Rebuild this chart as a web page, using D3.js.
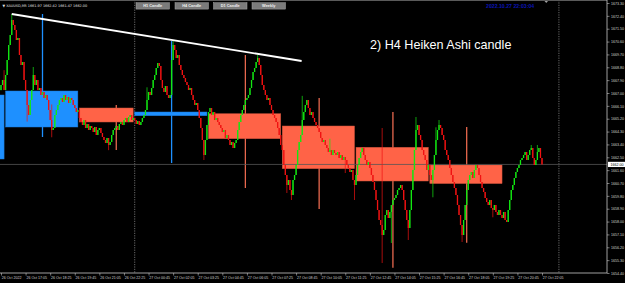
<!DOCTYPE html>
<html lang="en">
<head>
<meta charset="utf-8">
<title>XAUUSD M5 - H4 Heiken Ashi candle</title>
<script src="https://cdn.jsdelivr.net/npm/d3@7"></script>
<style>
  body { margin: 0; background: #000; }
  svg { display: block; }
  .ax text { font-family: "Liberation Sans", Arial, sans-serif; font-size: 3.6px; fill: #d0d0d0; }
  .ax line { stroke: #c0c0c0; stroke-width: 0.6; }
  .btn text { font-family: "Liberation Sans", Arial, sans-serif; font-size: 3.9px; font-weight: bold; fill: #f0f0f0; }
</style>
</head>
<body>
<div class="chart"></div>
<script>

// M5 closes, one per bar, bar 0 = "26 Oct 2022"
var closes = [
1667.56,1667.91,1667.21,1668.26,1669.31,1670.36,1671.06,1672.11,1671.76,
1671.41,1670.71,1670.85,1669.66,1668.96,1669.17,1667.91,1667.21,1666.16,1665.46,
1666.51,1667.21,1668.26,1667.56,1667.91,1667.21,1667.35,1666.86,
1667.07,1666.65,1666.86,1666.51,1665.81,1665.11,1664.41,1664.55,1665.46,
1665.81,1666.16,1666.51,1666.65,1666.37,1666.86,1666.51,1666.72,1666.30,1666.65,1666.51,1666.16,
1665.95,1665.67,1665.81,1665.25,1664.97,1664.76,1665.11,1664.55,1664.83,1664.41,1664.69,
1664.55,1664.27,1664.62,1664.06,1664.41,1664.55,1664.20,
1663.92,1663.71,1663.50,1663.85,1663.36,1663.57,1664.06,
1664.41,1664.55,1664.69,1664.41,1664.83,1664.97,
1664.76,1665.11,1665.25,1664.97,1665.32,1665.46,1665.11,1665.25,
1665.11,1664.83,1665.04,1664.76,1664.97,1665.25,
1665.46,1665.81,1666.51,1667.07,1666.86,1667.35,
1667.91,1668.26,1668.75,1669.10,1668.89,
1667.91,1667.35,1667.07,1667.49,1666.86,1666.65,1666.86,
1669.31,1670.36,1670.01,1669.45,1669.66,1668.96,
1668.61,1668.26,1668.05,1667.77,1667.56,1667.21,1667.35,1666.86,
1666.51,1666.16,1666.30,1665.81,1665.25,1664.55,1663.71,1662.66,
1663.71,1664.76,1665.67,1665.95,
1665.46,1665.67,1665.11,1665.25,1664.97,1664.76,
1664.55,1664.27,1664.41,1663.85,1664.06,
1663.71,1663.36,1663.57,1663.15,1663.50,1663.71,
1664.41,1664.97,1665.46,1665.81,1666.16,1666.51,1666.65,
1666.86,1667.35,1667.91,1668.47,1668.75,1669.17,1669.45,
1668.96,1668.26,1667.56,1667.21,1666.86,1666.51,1666.65,1666.16,
1665.81,1665.46,1665.25,1664.97,1664.55,1664.06,1663.36,1663.01,
1661.96,1661.26,1660.56,1660.91,1660.21,1659.86,
1660.91,1661.26,1661.96,1663.01,1663.57,1664.06,
1665.11,1665.67,1666.16,1666.51,1665.95,1665.46,1665.67,1665.25,
1664.97,1664.76,1664.55,1664.27,1663.85,1663.57,1663.71,1663.36,
1663.15,1662.87,1663.01,1662.66,1663.01,1662.80,
1662.66,1662.87,1662.45,1662.66,1662.31,1662.52,
1662.31,1661.96,1661.75,1661.47,1661.61,1660.91,1660.56,1661.26,
1661.96,1662.45,1662.87,1663.15,
1662.66,1662.31,1661.96,1662.17,1661.75,
1661.26,1660.77,1660.21,1659.51,1658.81,1658.11,1657.76,1657.06,1657.41,
1658.46,1658.81,1658.25,1658.67,1659.16,1659.51,1659.65,1659.86,
1660.21,1660.35,1660.56,1660.21,1659.51,1658.81,1658.11,1657.55,
1658.81,1660.21,1661.61,1663.01,1664.41,1664.76,1664.06,
1663.71,1663.01,1662.66,1662.31,1661.61,1661.96,1661.26,1660.91,
1661.61,1662.66,1663.71,1664.41,1664.76,1664.55,
1664.06,1663.71,1663.01,1662.66,1662.31,1661.75,1661.26,1660.77,
1660.35,1659.86,1659.16,1658.46,1657.76,1657.06,
1658.11,1659.16,1660.21,1660.91,
1661.26,1661.47,1661.05,1661.61,1661.96,
1661.75,1661.26,1660.77,1660.35,
1660.07,1659.65,1659.37,1659.16,1659.51,
1658.95,1658.81,1659.16,1658.67,1658.46,
1658.81,1658.46,1658.25,1658.67,1658.11,1657.97,
1658.81,1659.51,1660.21,1660.56,1661.05,1661.47,1661.75,1661.96,
1662.31,1662.45,1662.66,1662.87,1662.31,1662.66,1663.01,1663.15,
1662.45,1661.96,1662.31,1662.87,1663.15,1662.45,1662.00
];
var firstOpen = 1667.20;

// long wicks that stick out of the bodies
var wickHighBars = [2, 7, 21, 33, 95, 112, 167, 196, 214, 248, 270, 283, 285, 345, 349];
var wickHighVals = [1668.60, 1672.53, 1668.82, 1666.20, 1667.40, 1670.64, 1669.66, 1666.80, 1663.80, 1664.55, 1665.32, 1664.60, 1665.11, 1663.36, 1663.36];
var wickLowBars = [17, 33, 70, 132, 186, 189, 224, 230, 248, 254, 265, 281, 300, 320];
var wickLowVals = [1665.00, 1663.90, 1663.00, 1662.31, 1660.00, 1659.51, 1661.40, 1659.51, 1655.10, 1656.50, 1656.71, 1659.70, 1656.57, 1658.30];

// H4 Heiken Ashi candles (bar index range on the M5 chart)
var haStart = [-45, 3, 51, 87, 135, 183, 231, 279];
var haEnd   = [2, 50, 86, 134, 182, 230, 278, 326];
var haMid   = [-21, 27, 75, 111, 159, 207, 255, 303];
var haOpen  = [1662.38, 1664.62, 1665.95, 1665.41, 1665.55, 1664.69, 1663.20, 1661.96];
var haClose = [1666.86, 1667.14, 1664.97, 1665.67, 1663.80, 1661.70, 1660.84, 1660.66];
var haHigh  = [1666.86, 1672.53, 1666.16, 1670.64, 1669.66, 1666.65, 1665.67, 1664.62];
var haLow   = [1662.38, 1663.92, 1663.01, 1662.10, 1660.35, 1658.88, 1654.77, 1656.52];

// trend line: [bar, price]
var trendBars = [7, 195.6];
var trendPrices = [1672.53, 1669.24];

var priceTicks = [1673.30,1672.40,1671.50,1670.60,1669.70,1668.80,1667.90,1667.00,1666.10,1665.20,1664.30,
  1663.40,1662.50,1661.60,1660.70,1659.80,1658.90,1658.00,1657.10,1656.20,1655.30,1654.40];
var timeLabels = ["26 Oct 2022","26 Oct 17:05","26 Oct 18:25","26 Oct 19:45","26 Oct 21:05","26 Oct 22:25",
  "27 Oct 00:45","27 Oct 02:05","27 Oct 03:25","27 Oct 04:45","27 Oct 06:05","27 Oct 07:25","27 Oct 08:45",
  "27 Oct 10:05","27 Oct 11:25","27 Oct 12:45","27 Oct 14:05","27 Oct 15:25","27 Oct 16:45","27 Oct 18:05",
  "27 Oct 19:25","27 Oct 20:45","27 Oct 22:05"];
var timeBars = d3.range(0, 353, 16);
var separatorBars = [87, 363];
var bidPrice = 1662.00;
var buttons = ["H1 Candle", "H4 Candle", "D1 Candle", "Weekly"];

var width = 625, height = 283,
    plotRight = 607, plotBottom = 273;

var x = d3.scaleLinear().domain([0, 352]).range([1, 542]);
var y = d3.scaleLinear().domain([1654.40, 1673.30]).range([273, 3]);

var svg = d3.select(".chart").append("svg")
    .attr("width", width)
    .attr("height", height);

svg.append("rect").attr("width", width).attr("height", height).attr("fill", "#000");

var g = svg.append("g");
g.append("clipPath").attr("id", "plot")
  .append("rect").attr("x", 0).attr("y", 0).attr("width", plotRight).attr("height", plotBottom);
var plot = g.append("g").attr("clip-path", "url(#plot)");

// top border
svg.append("line").attr("x1", 0).attr("x2", plotRight).attr("y1", 0.5).attr("y2", 0.5)
  .attr("stroke", "#5a5a5a").attr("stroke-width", 1.2);

// period separator + chart shift
plot.selectAll(".sep").data(separatorBars).enter().append("line")
  .attr("x1", function(d){ return x(d); }).attr("x2", function(d){ return x(d); })
  .attr("y1", 0).attr("y2", plotBottom)
  .attr("stroke", "#b0b0b0").attr("stroke-width", 0.6).attr("stroke-dasharray", "1.2,1.2");

// H4 heiken ashi
var ha = d3.range(haOpen.length).map(function(i){
  return {s: haStart[i], e: haEnd[i], m: haMid[i], o: haOpen[i], c: haClose[i], h: haHigh[i], l: haLow[i]};
});
function haCol(d){ return d.c >= d.o ? "#1e90ff" : "#ff6347"; }

plot.selectAll(".hawick").data(ha).enter().append("line")
  .attr("x1", function(d){ return x(d.m); }).attr("x2", function(d){ return x(d.m); })
  .attr("y1", function(d){ return y(d.h); }).attr("y2", function(d){ return y(d.l); })
  .attr("stroke", function(d){ return d.c >= d.o ? "#1e90ff" : "#e8684e"; })
  .attr("stroke-width", 1.3);

plot.selectAll(".habox").data(ha).enter().append("rect")
  .attr("x", function(d){ return x(d.s); })
  .attr("width", function(d){ return x(d.e) - x(d.s); })
  .attr("y", function(d){ return y(Math.max(d.o, d.c)); })
  .attr("height", function(d){ return Math.abs(y(d.o) - y(d.c)); })
  .attr("fill", haCol)
  .attr("stroke", function(d){ return d.c >= d.o ? "#1a7ad8" : "#c9503a"; })
  .attr("stroke-width", 0.5);

// bid line
plot.append("line").attr("x1", 0).attr("x2", plotRight)
  .attr("y1", y(bidPrice)).attr("y2", y(bidPrice))
  .attr("stroke", "#555").attr("stroke-width", 0.8);

// M5 candles
var bars = closes.map(function(c, i){
  var o = i === 0 ? firstOpen : closes[i - 1];
  var h = Math.max(o, c), l = Math.min(o, c);
  var hi = wickHighBars.indexOf(i), lo = wickLowBars.indexOf(i);
  if (hi >= 0) h = Math.max(h, wickHighVals[hi]);
  if (lo >= 0) l = Math.min(l, wickLowVals[lo]);
  return {i: i, o: o, c: c, h: h, l: l};
});
function candleCol(d){ return d.c >= d.o ? "#12e812" : "#f01212"; }

plot.selectAll(".wick").data(bars).enter().append("line")
  .attr("x1", function(d){ return x(d.i); }).attr("x2", function(d){ return x(d.i); })
  .attr("y1", function(d){ return y(d.h); }).attr("y2", function(d){ return y(d.l); })
  .attr("stroke", candleCol).attr("stroke-width", 0.7);

plot.selectAll(".body").data(bars).enter().append("rect")
  .attr("x", function(d){ return x(d.i) - 0.65; })
  .attr("width", 1.3)
  .attr("y", function(d){ return y(Math.max(d.o, d.c)); })
  .attr("height", function(d){ return Math.max(0.8, Math.abs(y(d.o) - y(d.c))); })
  .attr("fill", candleCol);

// trend line
plot.append("line")
  .attr("x1", x(trendBars[0])).attr("y1", y(trendPrices[0]))
  .attr("x2", x(trendBars[1])).attr("y2", y(trendPrices[1]))
  .attr("stroke", "#fff").attr("stroke-width", 1.8);

svg.append("text").attr("x", 370).attr("y", 49)
  .attr("font-family", "Liberation Sans, Arial, sans-serif").attr("font-size", 12.6)
  .attr("fill", "#fff").text("2) H4 Heiken Ashi candle");

// header
svg.append("text").attr("x", 2.5).attr("y", 6.5)
  .attr("font-family", "DejaVu Sans, sans-serif").attr("font-size", 3.4).attr("fill", "#e0e0e0")
  .text("\u25BC XAUUSD,M5  1661.97 1662.42 1661.47 1662.00");

svg.append("text").attr("x", 486).attr("y", 8)
  .attr("font-family", "Liberation Sans, Arial, sans-serif").attr("font-size", 5.2)
  .attr("font-weight", "bold").attr("fill", "#0a14b4").text("2022.10.27 22:03:04");

svg.append("path").attr("d", "M544.5,1 L548,1 L546.25,3 Z").attr("fill", "#a0a0a0");

var btnX = [136, 175, 213.5, 252];
var btn = svg.selectAll(".btn").data(buttons).enter().append("g").attr("class", "btn")
  .attr("transform", function(d, i){ return "translate(" + btnX[i] + ",2.7)"; });
btn.append("rect").attr("width", 33.5).attr("height", 6.4)
  .attr("fill", "#7b7b7b").attr("stroke", "#a8a8a8").attr("stroke-width", 0.5);
btn.append("text").attr("x", 16.75).attr("y", 4.6).attr("text-anchor", "middle").text(function(d){ return d; });

// axes
var yAxis = svg.append("g").attr("class", "ax")
  .attr("transform", "translate(" + plotRight + ",0)")
  .call(d3.axisRight(y).tickValues(priceTicks).tickFormat(d3.format(".2f")).tickSize(2.5).tickPadding(1.5));
yAxis.select(".domain").remove();

var xAxis = svg.append("g").attr("class", "ax")
  .attr("transform", "translate(0," + plotBottom + ")")
  .call(d3.axisBottom(x).tickValues(timeBars).tickFormat(function(d, i){ return timeLabels[i]; })
    .tickSize(2.5).tickPadding(1.2));
xAxis.select(".domain").remove();
xAxis.selectAll("text").attr("text-anchor", "start").attr("dx", 0.3);

svg.append("line").attr("x1", plotRight).attr("x2", plotRight).attr("y1", 0).attr("y2", plotBottom)
  .attr("stroke", "#c8c8c8").attr("stroke-width", 0.8);
svg.append("line").attr("x1", 0).attr("x2", plotRight).attr("y1", plotBottom).attr("y2", plotBottom)
  .attr("stroke", "#c8c8c8").attr("stroke-width", 0.8);

// current price tag
svg.append("rect").attr("x", plotRight + 1).attr("y", y(bidPrice) - 2.6)
  .attr("width", 17).attr("height", 5.2).attr("fill", "#fff");
svg.append("text").attr("x", plotRight + 3.5).attr("y", y(bidPrice) + 1.3)
  .attr("font-family", "Liberation Sans, Arial, sans-serif").attr("font-size", 3.6)
  .attr("fill", "#000").text(d3.format(".2f")(bidPrice));

</script>
</body>
</html>
